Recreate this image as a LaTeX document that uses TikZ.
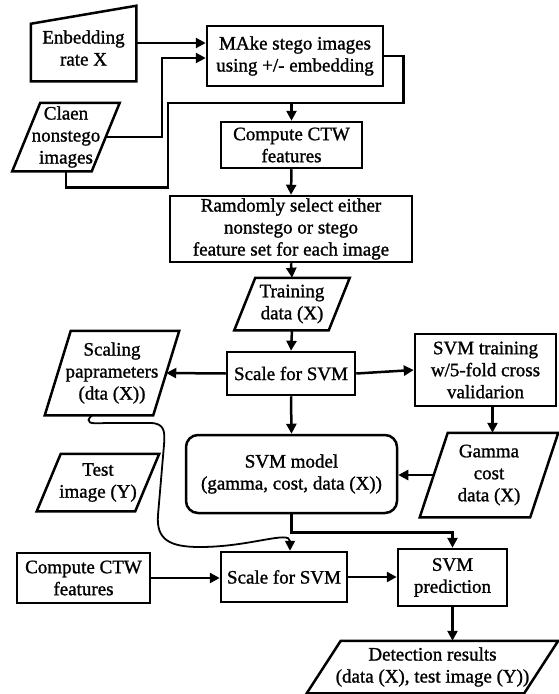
\documentclass[tikz,border=0pt]{standalone}
\usepackage{fontspec}
\setmainfont[FakeBold=1.2]{Liberation Serif}
\usetikzlibrary{arrows.meta}

% outline of a data (slanted) box around a node
\newcommand{\slantbox}[2]{%
  \draw ([xshift=#2]#1.north west) -- ([xshift=#2]#1.north east)
    -- ([xshift=-#2]#1.south east) -- ([xshift=-#2]#1.south west) -- cycle;}

\begin{document}
\begin{tikzpicture}[x=1pt, y=-1pt, line width=2.5pt,
    every node/.style={font=\fontsize{19}{22}\selectfont, align=center, inner sep=0pt},
    box/.style={draw},
    arr/.style={-{Triangle[length=10pt,width=10pt]}}]
      \useasboundingbox (0,0) rectangle (558,694);

      % Draw the input side
      \node[minimum width=103pt, minimum height=64pt] (emb) at (83.5,48) {Enbedding\\rate X};
      \draw (emb.south west) -- (emb.south east) -- ([yshift=9pt]emb.north east)
        -- ([yshift=-9pt]emb.north west) -- cycle;
      \node[minimum width=77pt, minimum height=66pt] (claen) at (66,137) {Claen\\nonstego\\images};
      \slantbox{claen}{14pt}
      \node[box, minimum width=176pt, minimum height=60pt] (make) at (295,56) {MAke stego images\\using +/- embedding};

      % Draw the training chain
      \node[box, minimum width=141pt, minimum height=46pt] (ctw1) at (291.5,145) {Compute CTW\\features};
      \node[box, minimum width=242pt, minimum height=66pt] (select) at (291,229) {Ramdomly select either\\nonstego or stego\\feature set for each image};
      \node[minimum width=92pt, minimum height=50pt] (trdata) at (292,304) {Training\\data (X)};
      \slantbox{trdata}{10.5pt}
      \node[box, minimum width=128pt, minimum height=43pt] (scale1) at (291,373.5) {Scale for SVM};
      \node[minimum width=106pt, minimum height=82pt] (scaling) at (112,373) {Scaling\\paprameters\\(dta (X))};
      \slantbox{scaling}{13pt}
      \node[box, minimum width=141pt, minimum height=72pt] (svmtrain) at (485.5,370) {SVM training\\w/5-fold cross\\validarion};
      \node[minimum width=108pt, minimum height=82pt] (gamma) at (489,475) {Gamma\\cost\\data (X)};
      \slantbox{gamma}{14pt}
      \node[box, rounded corners=12pt, minimum width=211pt, minimum height=78pt] (model) at (291.5,474) {SVM model\\(gamma, cost, data (X))};

      % Draw the test chain
      \node[minimum width=96pt, minimum height=55pt] (test) at (98,482.5) {Test\\image (Y)};
      \slantbox{test}{12pt}
      \node[box, minimum width=133pt, minimum height=50pt] (ctw2) at (83.5,578) {Compute CTW\\features};
      \node[box, minimum width=126pt, minimum height=50pt] (scale2) at (284,577) {Scale for SVM};
      \node[box, minimum width=109pt, minimum height=57pt] (predict) at (452.5,577.5) {SVM\\prediction};
      \node[minimum width=215pt, minimum height=50pt] (detect) at (432.5,667) {Detection results\\(data (X), test image (Y))};
      \slantbox{detect}{17pt}

      % Connect the input side
      \coordinate (bus) at (168,103);
      \draw[arr] ([yshift=5pt]emb.east) -- ([yshift=5pt]emb.east -| make.west);
      \draw[arr] (claen.east) -- ++(56,0) |- ([yshift=-2pt]make.west);
      \draw (make.east) -- ++(19,0) |- (bus) |- ([yshift=-16pt]claen.south) -- (claen.south);
      \draw[arr] (ctw1.north |- bus) -- (ctw1.north);

      % Connect the training chain
      \draw[arr] (ctw1.south) -- (select.north);
      \draw[arr] (select.south) -- (trdata.north);
      \draw[arr] (trdata.south) -- (scale1.north);
      \draw[arr] (scale1.west) -- (scaling.east);
      \draw[arr] (scale1.east) -- (svmtrain.west);
      \draw[arr] ([xshift=7pt]svmtrain.south) -- ([xshift=7pt]svmtrain.south |- gamma.north);
      \draw[arr] (gamma.west) -- (gamma.west -| model.east);
      \draw[arr] (scale1.south) -- (model.north);

      % Connect the test chain
      \draw[arr] (model.south) -- ++(0,18) -| (predict.north);
      \draw[arr] (ctw2.east) -- (ctw2.east -| scale2.west);
      \draw[arr] (scale2.east) -- (scale2.east -| predict.west);
      \draw[arr] (predict.south) -- (predict.south |- detect.north);
      \draw[arr, line width=1.8pt] ([xshift=-20pt]scaling.south) .. controls (84,423) and (90,424) .. (105,423)
        -- (150,423) .. controls (165,423) and (165,432) .. (164,445) -- (158,515)
        .. controls (156,540) and (170,547) .. (200,547)
        .. controls (250,547) and (290,530) .. ([xshift=6pt]scale2.north);
    \end{tikzpicture}
\end{document}
